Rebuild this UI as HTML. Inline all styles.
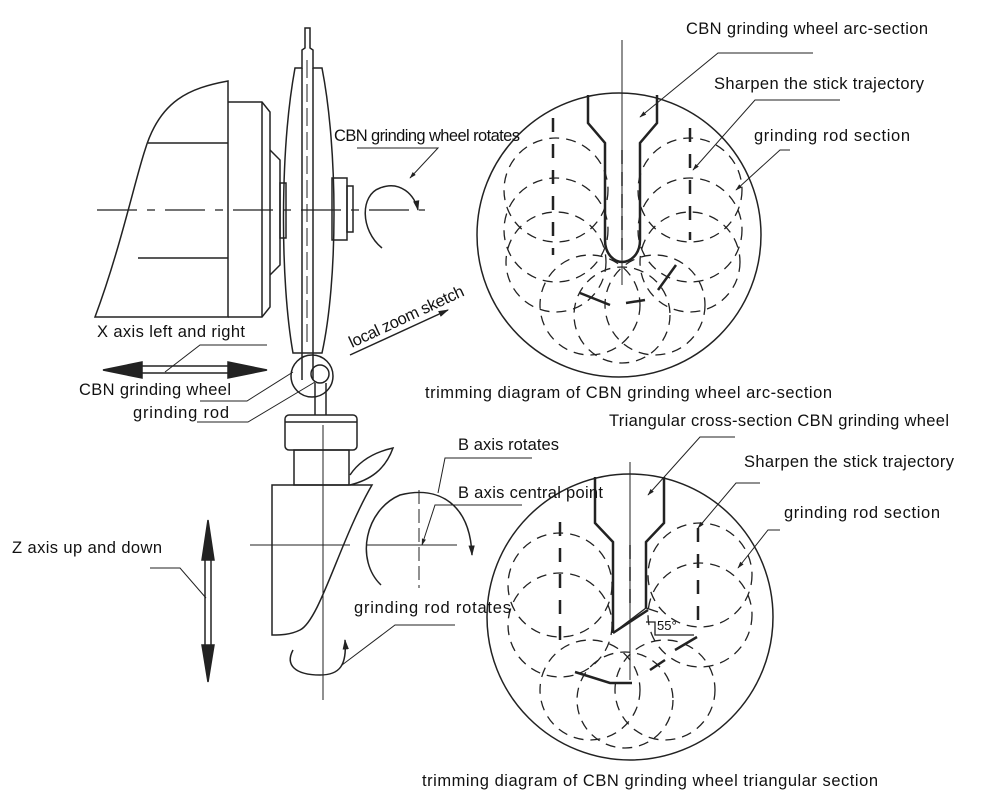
<!DOCTYPE html>
<html><head><style>
body{margin:0;background:#fff;}
svg{display:block}
text{font-family:"Liberation Sans",sans-serif;font-size:16.5px;fill:#111}
</style></head><body>
<svg width="1000" height="798" viewBox="0 0 1000 798" xmlns="http://www.w3.org/2000/svg">
<defs>
<marker id="a" viewBox="0 0 10 10" refX="9" refY="5" markerWidth="7" markerHeight="7" orient="auto"><path d="M0,2 L10,5 L0,8 z" fill="#222"/></marker>
</defs>
<g fill="none" stroke="#222" stroke-width="1.5">
<path d="M95,317 C120,250 135,180 145,150 C160,100 190,88 228,81 L228,317 Z"/>
<line x1="148" y1="143" x2="228" y2="143"/>
<line x1="138" y1="258" x2="228" y2="258"/>
<path d="M228,102 L262,102 L270,112 L270,307 L262,317 L228,317"/>
<line x1="262" y1="102" x2="262" y2="317"/>
<path d="M270,150 L280,160 L280,265 L270,275"/>
<rect x="280" y="183" width="6" height="55"/>
<path d="M295,68 L302,68 L302,50 L305,48 L305,28 L310,28 L310,48 L313,50 L313,68 L322,68 C338,150 338,280 322,353 L293,353 C280,280 280,150 295,68 Z"/>
<line x1="302" y1="68" x2="302" y2="380"/>
<line x1="313" y1="68" x2="313" y2="380"/>
<rect x="332" y="178" width="15" height="62"/>
<rect x="347" y="186" width="6" height="46"/>
<line x1="97" y1="210" x2="425" y2="210" stroke-dasharray="40,10,8,10" stroke-width="1.3"/>
<line x1="307" y1="60" x2="307" y2="345" stroke-dasharray="18,6" stroke-width="1"/>
<path d="M382,248 C360,230 360,195 380,188 C400,180 415,195 418,210" marker-end="url(#a)"/>
<polyline points="357,148 438,148 410,178" marker-end="url(#a)" stroke-width="1"/>
<circle cx="312" cy="376" r="21"/>
<circle cx="320" cy="374" r="9"/>
<line x1="315" y1="383" x2="315" y2="415"/><line x1="326" y1="383" x2="326" y2="415"/>
<rect x="285" y="415" width="72" height="35" rx="4"/>
<line x1="285" y1="422" x2="357" y2="422"/>
<rect x="294" y="450" width="55" height="35"/>
<path d="M350,475 C360,460 375,452 393,448 C385,470 370,480 350,485"/>
<path d="M272,485 L372,485 C340,540 320,620 300,630 C290,635 280,635 272,635 Z"/>
<line x1="323" y1="425" x2="323" y2="700" stroke-width="1"/>
<line x1="250" y1="545" x2="350" y2="545" stroke-width="1"/>
<line x1="419" y1="490" x2="419" y2="588" stroke-width="1" stroke-dasharray="14,5"/>
<line x1="366" y1="545" x2="457" y2="545" stroke-width="1"/>
<path d="M381,585 C355,560 365,510 400,495 C440,485 470,505 472,555" marker-end="url(#a)"/>
<polyline points="532,458 445,458 438,493" stroke-width="1"/>
<polyline points="522,505 435,505 422,545" stroke-width="1" marker-end="url(#a)"/>
<path d="M293,650 C285,665 295,675 320,675 C340,675 347,665 345,640" marker-end="url(#a)"/>
<polyline points="455,625 395,625 342,665" stroke-width="1"/>
<line x1="205" y1="560" x2="205" y2="645"/><line x1="211" y1="560" x2="211" y2="645"/>
<path d="M202,560 L208,520 L214,560 Z" fill="#222"/>
<path d="M202,645 L208,682 L214,645 Z" fill="#222"/>
<polyline points="150,568 180,568 206,598" stroke-width="1"/>
<line x1="142" y1="366" x2="228" y2="366"/><line x1="142" y1="373" x2="228" y2="373"/>
<path d="M142,362 L103,370 L142,378 Z" fill="#222"/>
<path d="M228,362 L267,370 L228,378 Z" fill="#222"/>
<polyline points="267,345 200,345 165,372" stroke-width="1"/>
<polyline points="200,401 247,401 293,372" stroke-width="1"/>
<polyline points="197,422 248,422 315,382" stroke-width="1"/>
<line x1="350" y1="355" x2="448" y2="310" marker-end="url(#a)"/>
<circle cx="619" cy="235" r="142"/>
<line x1="622" y1="40" x2="622" y2="285" stroke-width="1"/>
<path d="M588,95 L588,123 L605,143 L605,240 C605,255 615,262 622,262 C630,262 640,255 640,240 L640,143 L657,123 L657,95" stroke-width="2.5"/>
<line x1="622" y1="150" x2="622" y2="250" stroke-dasharray="14,8"/>
<g stroke-dasharray="10,7" stroke-width="1.3">
<circle cx="556" cy="190" r="52"/><circle cx="556" cy="230" r="52"/><circle cx="556" cy="262" r="50"/>
<circle cx="690" cy="190" r="52"/><circle cx="690" cy="230" r="52"/><circle cx="690" cy="262" r="50"/>
<circle cx="590" cy="305" r="50"/><circle cx="655" cy="305" r="50"/><circle cx="622" cy="315" r="48"/>
</g>
<line x1="553" y1="118" x2="553" y2="255" stroke-width="2.5" stroke-dasharray="14,12"/>
<line x1="690" y1="128" x2="690" y2="240" stroke-width="2.5" stroke-dasharray="14,12"/>
<path d="M580,293 L610,305 M626,303 L645,300 M658,290 L676,265" stroke-width="2.5"/>
<polyline points="813,53 718,53 640,117" stroke-width="1" marker-end="url(#a)"/>
<polyline points="840,100 755,100 693,170" stroke-width="1" marker-end="url(#a)"/>
<polyline points="790,150 780,150 736,190" stroke-width="1" marker-end="url(#a)"/>
<circle cx="630" cy="617" r="143"/>
<line x1="630" y1="462" x2="630" y2="680" stroke-width="1"/>
<path d="M595,477 L595,523 L613,542 L613,633 M664,477 L664,523 L646,542 L646,608" stroke-width="2.5"/>
<line x1="630" y1="545" x2="630" y2="610" stroke-dasharray="14,8"/>
<path d="M613,633 L646,608 L658,612 M646,622 L655,622 L655,635 L694,635" stroke-width="1.3"/>
<line x1="613" y1="633" x2="648" y2="610" stroke-width="2.5"/>
<g stroke-dasharray="10,7" stroke-width="1.3">
<circle cx="560" cy="585" r="52"/><circle cx="560" cy="625" r="52"/>
<circle cx="700" cy="575" r="52"/><circle cx="700" cy="615" r="52"/>
<circle cx="590" cy="690" r="50"/><circle cx="665" cy="690" r="50"/><circle cx="625" cy="700" r="48"/>
</g>
<line x1="560" y1="522" x2="560" y2="650" stroke-width="2.5" stroke-dasharray="14,12"/>
<line x1="698" y1="528" x2="698" y2="625" stroke-width="2.5" stroke-dasharray="14,12"/>
<path d="M575,672 L610,683 L632,683 M650,670 L665,660 M675,650 L697,637" stroke-width="2.5"/>
<polyline points="735,437 700,437 648,495" stroke-width="1" marker-end="url(#a)"/>
<polyline points="760,483 736,483 698,528" stroke-width="1" marker-end="url(#a)"/>
<polyline points="780,530 768,530 738,568" stroke-width="1" marker-end="url(#a)"/>
</g>
<text x="686" y="34" textLength="242">CBN grinding wheel arc-section</text>
<text x="714" y="89" textLength="210">Sharpen the stick trajectory</text>
<text x="754" y="141" textLength="156">grinding rod section</text>
<text x="334" y="141" textLength="186">CBN grinding wheel rotates</text>
<text x="97" y="337" textLength="148">X axis left and right</text>
<text x="79" y="395" textLength="152">CBN grinding wheel</text>
<text x="133" y="418" textLength="96">grinding rod</text>
<text x="0" y="0" transform="translate(352,348) rotate(-25)" textLength="125">local zoom sketch</text>
<text x="425" y="398" textLength="407">trimming diagram of CBN grinding wheel arc-section</text>
<text x="609" y="426" textLength="340">Triangular cross-section CBN grinding wheel</text>
<text x="744" y="467" textLength="210">Sharpen the stick trajectory</text>
<text x="784" y="518" textLength="156">grinding rod section</text>
<text x="458" y="450" textLength="101">B axis rotates</text>
<text x="458" y="498" textLength="145">B axis central point</text>
<text x="12" y="553" textLength="150">Z axis up and down</text>
<text x="354" y="613" textLength="157">grinding rod rotates</text>
<text x="657" y="630" style="font-size:13px">55°</text>
<text x="422" y="786" textLength="456">trimming diagram of CBN grinding wheel triangular section</text>
</svg>
</body></html>
